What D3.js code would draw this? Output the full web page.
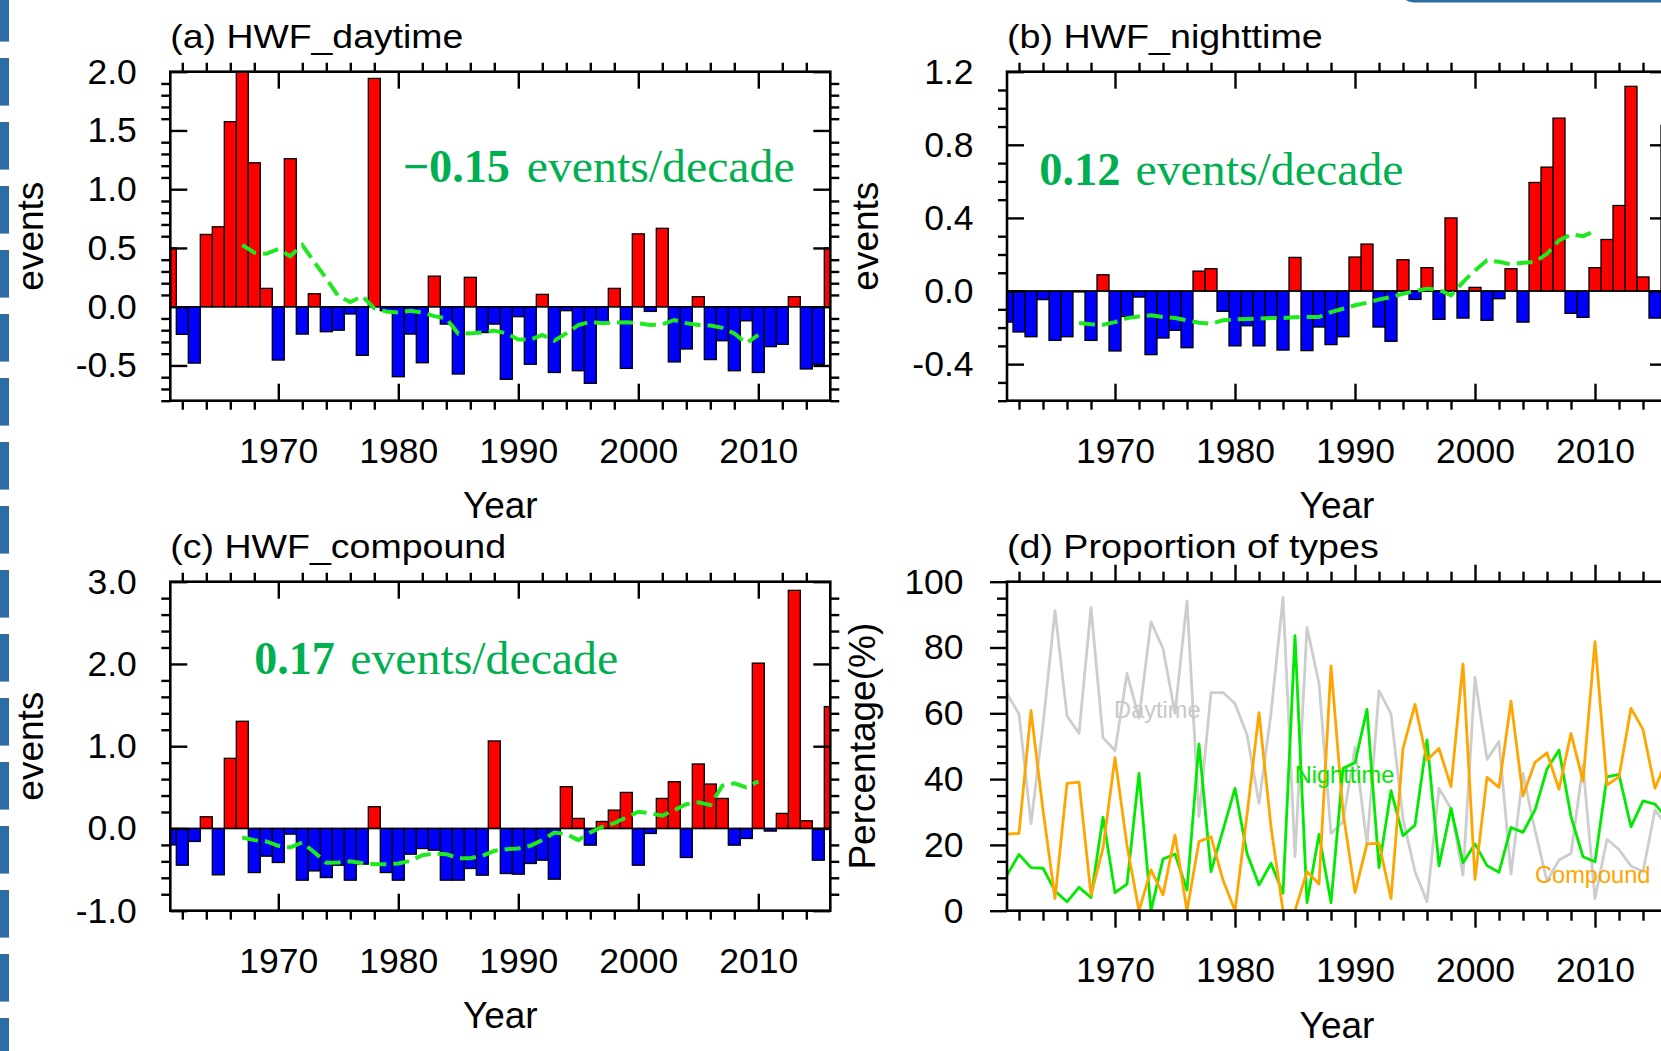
<!DOCTYPE html>
<html><head><meta charset="utf-8">
<script src="https://cdn.jsdelivr.net/npm/d3@7"></script>
<style>html,body{margin:0;padding:0;background:#fff;}svg{display:block;}</style>
</head><body>
<svg id="chart" width="1661" height="1051"></svg>
<script>
// ---------------- DATA ----------------
const startYear = 1961, endYear = 2016;
const years = d3.range(startYear, endYear + 1);
const meanYears = d3.range(1967, 2011);
const xTickValues = [1970, 1980, 1990, 2000, 2010];

const hwfDaytime = [
  0.50, -0.235, -0.48, 0.615, 0.68, 1.575, 2.0, 1.225, 0.156, -0.454,
  1.26, -0.233, 0.11, -0.213, -0.2, -0.062, -0.414, 1.943, -0.034, -0.596,
  -0.233, -0.477, 0.26, -0.148, -0.573, 0.25, -0.22, -0.148, -0.618, -0.085,
  -0.49, 0.105, -0.56, -0.034, -0.545, -0.652, -0.14, 0.156, -0.525, 0.62,
  -0.04, 0.667, -0.47, -0.36, 0.085, -0.45, -0.29, -0.545, -0.12, -0.56,
  -0.34, -0.32, 0.085, -0.53, -0.49, 0.50];
const hwfDaytimeMean = [
  0.525, 0.46, 0.45, 0.49, 0.43, 0.525, 0.38, 0.24, 0.09, 0.04,
  0.09, -0.014, -0.04, -0.05, -0.034, -0.05, -0.08, -0.10, -0.23, -0.227,
  -0.218, -0.204, -0.227, -0.28, -0.28, -0.24, -0.29, -0.227, -0.156, -0.128,
  -0.14, -0.136, -0.133, -0.14, -0.156, -0.15, -0.113, -0.14, -0.156, -0.16,
  -0.18, -0.227, -0.31, -0.24];

const hwfNighttime = [
  -0.17, -0.224, -0.25, -0.047, -0.27, -0.25, -0.005, -0.27, 0.089, -0.328,
  -0.139, -0.033, -0.348, -0.257, -0.215, -0.31, 0.109, 0.122, -0.111, -0.30,
  -0.19, -0.30, -0.139, -0.323, 0.184, -0.326, -0.197, -0.293, -0.25, 0.186,
  0.257, -0.197, -0.275, 0.171, -0.046, 0.128, -0.155, 0.40, -0.148, 0.02,
  -0.16, -0.042, 0.122, -0.17, 0.594, 0.678, 0.946, -0.122, -0.144, 0.128,
  0.282, 0.468, 1.12, 0.077, -0.148, 0.906];
const hwfNighttimeMean = [
  -0.175, -0.182, -0.184, -0.17, -0.148, -0.139, -0.133, -0.142, -0.148, -0.16,
  -0.173, -0.179, -0.16, -0.155, -0.153, -0.151, -0.148, -0.148, -0.144, -0.142,
  -0.142, -0.115, -0.097, -0.078, -0.064, -0.046, -0.033, -0.015, 0.0, 0.013,
  0.007, -0.024, 0.049, 0.113, 0.168, 0.16, 0.146, 0.155, 0.159, 0.204,
  0.277, 0.31, 0.30, 0.328];

const hwfCompound = [
  -0.2, -0.447, -0.158, 0.142, -0.564, 0.853, 1.303, -0.536, -0.337, -0.414,
  -0.069, -0.629, -0.516, -0.597, -0.447, -0.629, -0.434, 0.264, -0.536, -0.629,
  -0.313, -0.244, -0.264, -0.629, -0.629, -0.487, -0.568, 1.064, -0.548, -0.556,
  -0.426, -0.386, -0.617, 0.508, 0.122, -0.203, 0.085, 0.223, 0.438, -0.447,
  -0.061, 0.365, 0.568, -0.353, 0.784, 0.54, 0.365, -0.203, -0.122, 2.01,
  -0.032, 0.183, 2.895, 0.093, -0.386, 1.482];
const hwfCompoundMean = [
  -0.11, -0.142, -0.158, -0.211, -0.231, -0.17, -0.29, -0.418, -0.414, -0.40,
  -0.422, -0.434, -0.434, -0.426, -0.394, -0.325, -0.305, -0.313, -0.361, -0.361,
  -0.333, -0.272, -0.252, -0.244, -0.211, -0.142, -0.049, -0.069, -0.142, -0.049,
  0.02, 0.065, 0.134, 0.203, 0.183, 0.154, 0.223, 0.296, 0.317, 0.284,
  0.52, 0.548, 0.5, 0.572];

const pctDaytime = [
  66, 59.8, 26.5, 56.5, 91.2, 59.2, 53.9, 92.2, 52.6, 48.6,
  72.1, 58.5, 87.8, 79.7, 60, 94.2, 28.6, 66.3, 66.3, 63,
  53.5, 32.6, 60, 95.2, 16.4, 86.1, 69.1, 23.5, 27, 49.8,
  20, 66.9, 59.8, 28, 11.9, 2.7, 37.2, 31, 10.8, 70.9,
  46, 51.4, 11.1, 41.7, 24.5, 9, 15.4, 17.4, 44.2, 3.7,
  21.7, 18.6, 13.6, 11.9, 30.6, 25.7];
const pctNighttime = [
  10.8, 17.1, 13.1, 12.9, 6, 2.7, 7.1, 4, 28.4, 5.5,
  8.1, 41.7, 0, 15.7, 17.2, 6.3, 50.6, 11.9, 24.5, 37.2,
  17.4, 7.8, 14.4, 5.3, 83.6, 2.4, 23.2, 2.4, 43.3, 45,
  61.2, 13.1, 36.5, 22.8, 26, 51.9, 13.6, 31.1, 14.6, 20.3,
  13.7, 11.7, 25.3, 23.8, 30.6, 43.1, 48.8, 28.6, 16.4, 14.9,
  40.7, 41.4, 25.5, 33.4, 32.4, 28];
const pctCompound = [
  23.3, 23.5, 60.8, 30.6, 3.7, 38.7, 39.1, 4.8, 19, 46.5,
  19.8, 0, 12.4, 4.8, 23, 0, 21, 22.5, 9.3, 0,
  29.1, 60.2, 25.5, 0, 0, 11.9, 8.1, 74.4, 30, 5.5,
  20.3, 20.5, 3.7, 49.3, 62.7, 45.8, 49.3, 37.7, 75, 9.5,
  40.5, 37.5, 63.7, 34.9, 45.1, 48, 36.9, 53.9, 39.4, 81.8,
  38.2, 40.7, 61.5, 55.1, 37.2, 46];

const yTicksA = [-0.5, 0.0, 0.5, 1.0, 1.5, 2.0];
const yTicksB = [-0.4, 0.0, 0.4, 0.8, 1.2];
const yTicksC = [-1.0, 0.0, 1.0, 2.0, 3.0];
const yTicksD = [0, 20, 40, 60, 80, 100];
const trendNumbers = ["\u22120.15", "0.12", "0.17"];
const trendUnit = "events/decade";
const typeNames = ["Daytime", "Nighttime", "Compound"];

// ---------------- DRAWING ----------------
const FONT = "'Liberation Sans', Arial, Helvetica, sans-serif";
const SERIF = "'Liberation Serif', 'Times New Roman', serif";
const svg = d3.select('#chart');
svg.append('rect').attr('width', 1661).attr('height', 1051).attr('fill', '#fff');

// slide decoration (left dashed bar, top-right border)
svg.append('g').selectAll('rect').data(d3.range(17)).join('rect')
  .attr('x', 0).attr('y', k => -6 + 64 * k).attr('width', 9).attr('height', 47.6)
  .attr('fill', '#2e6da4');
svg.append('path').attr('d', 'M1403,-10 Q1403,1.2 1414,1.2 L1665,1.2')
  .attr('fill', 'none').attr('stroke', '#2e6da4').attr('stroke-width', 2.6);

const PW = 660;
const fmt1 = d => d.toFixed(1);
const minorX = d3.range(1962, 2016, 2).filter(v => v % 10 !== 0);

function styleAxis(sel) {
  sel.select('.domain').remove();
  sel.selectAll('line').attr('stroke', '#000').attr('stroke-width', 2.4);
  sel.selectAll('text').attr('font-family', FONT).attr('font-size', 35.5).attr('fill', '#000');
}

function drawAxes(g, x, y, o) {
  const [xl, xr] = x.range(), [yb, yt] = y.range();
  const maj = o.inward ? -17 : 17, mnr = o.inward ? 9 : 10;
  const none = () => '';
  g.append('g').attr('transform', `translate(0,${yb})`)
    .call(d3.axisBottom(x).tickValues(xTickValues).tickSize(maj).tickPadding(o.xPad).tickFormat(d3.format('d'))).call(styleAxis);
  g.append('g').attr('transform', `translate(0,${yb})`)
    .call(d3.axisBottom(x).tickValues(minorX).tickSize(mnr).tickFormat(none)).call(styleAxis);
  g.append('g').attr('transform', `translate(0,${yt})`)
    .call(d3.axisTop(x).tickValues(xTickValues).tickSize(maj).tickFormat(none)).call(styleAxis);
  g.append('g').attr('transform', `translate(0,${yt})`)
    .call(d3.axisTop(x).tickValues(minorX).tickSize(mnr).tickFormat(none)).call(styleAxis);
  g.append('g').attr('transform', `translate(${xl},0)`)
    .call(d3.axisLeft(y).tickValues(o.yTicks).tickSize(maj).tickPadding(o.yPad).tickFormat(o.fmt)).call(styleAxis);
  g.append('g').attr('transform', `translate(${xl},0)`)
    .call(d3.axisLeft(y).tickValues(o.yMinor).tickSize(mnr).tickFormat(none)).call(styleAxis);
  g.append('g').attr('transform', `translate(${xr},0)`)
    .call(d3.axisRight(y).tickValues(o.yTicks).tickSize(maj).tickFormat(none)).call(styleAxis);
  g.append('g').attr('transform', `translate(${xr},0)`)
    .call(d3.axisRight(y).tickValues(o.yMinor).tickSize(mnr).tickFormat(none)).call(styleAxis);
  g.append('rect').attr('x', xl).attr('y', yt).attr('width', xr - xl).attr('height', yb - yt)
    .attr('fill', 'none').attr('stroke', '#000').attr('stroke-width', 2.6);
}

function labels(g, o) {
  g.append('text').attr('x', o.x0).attr('y', o.y0 - 24).text(o.title)
    .attr('font-family', FONT).attr('font-size', 33).attr('fill', '#000')
    .attr('textLength', o.titleLen).attr('lengthAdjust', 'spacingAndGlyphs');
  g.append('text').attr('x', o.x0 + PW / 2).attr('y', o.y1 + o.yearDy).text('Year')
    .attr('text-anchor', 'middle').attr('font-family', FONT).attr('font-size', 37).attr('fill', '#000');
  g.append('text').attr('transform', `translate(${o.ylabX},${(o.y0 + o.y1) / 2}) rotate(-90)`)
    .text(o.ylabel).attr('text-anchor', 'middle').attr('font-family', FONT).attr('font-size', 37).attr('fill', '#000');
}

function barPanel(o) {
  const x = d3.scaleLinear().domain([startYear, endYear]).range([o.x0, o.x0 + PW]);
  const y = d3.scaleLinear().domain(o.yDomain).range([o.y1, o.y0]);
  const g = svg.append('g');
  const clipId = 'clip' + o.id;
  svg.append('clipPath').attr('id', clipId).append('rect')
    .attr('x', o.x0).attr('y', o.y0).attr('width', PW).attr('height', o.y1 - o.y0);
  const bw = x(startYear + 1) - x(startYear);
  const plot = g.append('g').attr('clip-path', `url(#${clipId})`);
  plot.selectAll('rect').data(years.map((yr, i) => ({ yr, v: o.values[i] }))).join('rect')
    .attr('x', d => x(d.yr) - bw / 2).attr('width', bw)
    .attr('y', d => y(Math.max(0, d.v))).attr('height', d => Math.abs(y(d.v) - y(0)))
    .attr('fill', d => d.v >= 0 ? '#ff0000' : '#0000ff')
    .attr('stroke', '#000').attr('stroke-width', 1.3);
  plot.append('line').attr('x1', o.x0).attr('x2', o.x0 + PW).attr('y1', y(0)).attr('y2', y(0))
    .attr('stroke', '#000').attr('stroke-width', 1.5);
  plot.append('path').datum(meanYears.map((yr, i) => [yr, o.mean[i]]))
    .attr('d', d3.line().x(d => x(d[0])).y(d => y(d[1])).curve(d3.curveLinear))
    .attr('fill', 'none').attr('stroke', '#1ee81e').attr('stroke-width', 4)
    .attr('stroke-dasharray', '16,7');
  drawAxes(g, x, y, { inward: true, xPad: 37.6, yPad: 33.5, yTicks: o.yTicks, yMinor: o.yMinor, fmt: fmt1 });
  labels(g, { ...o, yearDy: 117.6, ylabel: 'events' });
  // trend annotation
  g.append('text').attr('x', o.tx).attr('y', o.ty).text(o.trendNum)
    .attr('font-family', SERIF).attr('font-weight', 'bold').attr('font-size', 46).attr('fill', '#00b050')
    .attr('textLength', o.numLen).attr('lengthAdjust', 'spacingAndGlyphs');
  g.append('text').attr('x', o.ux).attr('y', o.ty).text(trendUnit)
    .attr('font-family', SERIF).attr('font-size', 46).attr('fill', '#00b050')
    .attr('textLength', 268).attr('lengthAdjust', 'spacingAndGlyphs');
}

const minorA = d3.range(-8, 21).map(i => i / 10).filter(v => Math.abs(v * 2 - Math.round(v * 2)) > 1e-6);
const minorB = d3.range(-6, 13).map(i => i / 10).filter(v => Math.abs(v / 0.4 - Math.round(v / 0.4)) > 1e-6);
const minorC = d3.range(-5, 16).map(i => i / 5).filter(v => Math.abs(v - Math.round(v)) > 1e-6);
const minorD = d3.range(0, 101, 5).filter(v => v % 20 !== 0);

barPanel({ id: 'a', x0: 170.3, y0: 71.7, y1: 400.7, yDomain: [-0.8, 2.0], values: hwfDaytime, mean: hwfDaytimeMean,
  yTicks: yTicksA, yMinor: minorA, title: '(a) HWF_daytime', titleLen: 293, ylabX: 43.3,
  trendNum: trendNumbers[0], tx: 402.7, numLen: 107.3, ux: 526.7, ty: 181.7 });
barPanel({ id: 'b', x0: 1007, y0: 71.7, y1: 400.7, yDomain: [-0.6, 1.2], values: hwfNighttime, mean: hwfNighttimeMean,
  yTicks: yTicksB, yMinor: minorB, title: '(b) HWF_nighttime', titleLen: 315.7, ylabX: 878,
  trendNum: trendNumbers[1], tx: 1039.2, numLen: 81.3, ux: 1135.5, ty: 185 });
barPanel({ id: 'c', x0: 170.3, y0: 581.7, y1: 910.7, yDomain: [-1.0, 3.0], values: hwfCompound, mean: hwfCompoundMean,
  yTicks: yTicksC, yMinor: minorC, title: '(c) HWF_compound', titleLen: 335.8, ylabX: 43.3,
  trendNum: trendNumbers[2], tx: 254.3, numLen: 80.5, ux: 350.2, ty: 674 });

// panel d
(function () {
  const o = { x0: 1007, y0: 581.7, y1: 910.7 };
  const x = d3.scaleLinear().domain([startYear, endYear]).range([o.x0, o.x0 + PW]);
  const y = d3.scaleLinear().domain([0, 100]).range([o.y1, o.y0]);
  const g = svg.append('g');
  const line = d3.line().x((d, i) => x(years[i])).y(d => y(d));
  const series = [
    { v: pctDaytime, c: '#cdcdcd' },
    { v: pctNighttime, c: '#00ea00' },
    { v: pctCompound, c: '#ffa500' }];
  g.selectAll('path.s').data(series).join('path').attr('class', 's')
    .attr('d', d => line(d.v)).attr('fill', 'none').attr('stroke', d => d.c)
    .attr('stroke-width', 2.8).attr('stroke-linejoin', 'round');
  const lab = [
    { t: typeNames[0], x: 1114.1, y: 718.3, c: '#c8c8c8' },
    { t: typeNames[1], x: 1294.7, y: 783.3, c: '#00e600' },
    { t: typeNames[2], x: 1535, y: 883.3, c: '#ffa500' }];
  g.selectAll('text.lab').data(lab).join('text').attr('class', 'lab')
    .attr('x', d => d.x).attr('y', d => d.y).text(d => d.t).attr('fill', d => d.c)
    .attr('font-family', FONT).attr('font-size', 23.6);
  drawAxes(g, x, y, { inward: false, xPad: 29.5, yPad: 26.4, yTicks: yTicksD, yMinor: minorD, fmt: d => String(d) });
  labels(g, { ...o, title: '(d) Proportion of types', titleLen: 371.7, yearDy: 127, ylabel: 'Percentage(%)', ylabX: 875 });
})();
</script>
</body></html>
